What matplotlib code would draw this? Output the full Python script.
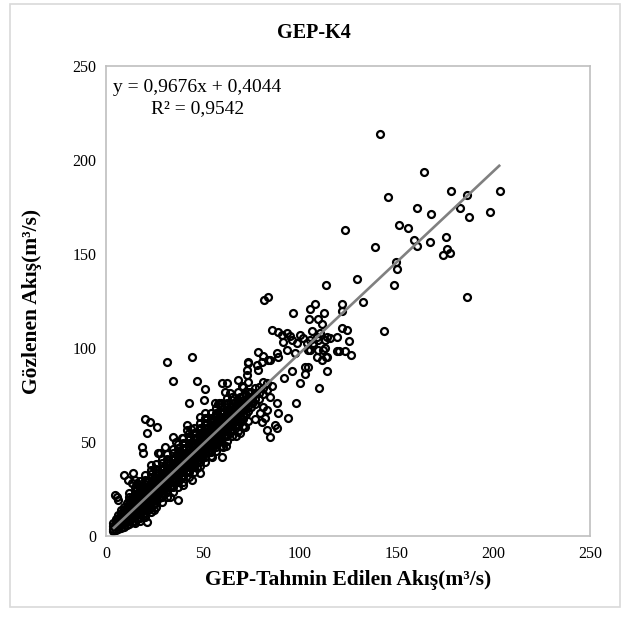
import matplotlib
matplotlib.use("Agg")
import matplotlib.pyplot as plt
from matplotlib.patches import Rectangle

plt.rcParams["font.family"] = ["Liberation Serif", "DejaVu Serif"]

INK = "#000000"
LINE_GREY = "#808080"
FRAME = "#bfbfbf"
OUTER = "#d9d9d9"

SLOPE = 0.9676
INTERCEPT = 0.4044
R2 = 0.9542

# dense core of the cloud (solid black in the picture): strip x, y values in it
core_x = [3.6, 5.0, 6.4, 7.8, 9.2, 10.6, 12.0, 13.4, 14.8, 16.2, 17.6, 19.0,
          20.4, 21.8, 23.2, 24.6, 26.0, 27.4, 28.8, 30.2, 31.6, 33.0, 34.4,
          35.8, 37.2, 38.6, 40.0, 41.4, 42.8, 44.2, 45.6, 47.0, 48.4, 49.8,
          51.2, 52.6, 54.0, 55.4, 56.8, 58.2, 59.6, 61.0, 62.4, 63.8, 65.2,
          66.6, 68.0, 69.4, 70.8, 72.2, 73.6, 75.0, 77.0, 79.0, 81.0, 83.0]
core_y = [
    [2.9, 3.9, 5.3, 6.8],
    [3.4, 4.6, 6.0, 7.6, 9.0],
    [3.8, 5.2, 6.6, 8.1, 9.6, 11.2],
    [4.3, 5.8, 7.3, 8.7, 10.3, 12.0, 13.6],
    [4.9, 6.7, 8.5, 10.2, 12.0, 13.8, 15.6],
    [5.6, 7.5, 9.4, 11.4, 13.3, 15.3, 17.3],
    [6.2, 8.4, 10.6, 12.9, 15.0, 17.2, 19.4],
    [7.2, 9.4, 11.7, 14.1, 16.4, 18.8, 21.0],
    [8.2, 10.5, 12.8, 15.1, 17.4, 19.8, 22.2],
    [8.9, 11.5, 14.1, 16.7, 19.3, 21.9, 24.5],
    [9.6, 12.2, 14.8, 17.4, 20.0, 22.6, 25.2],
    [10.9, 13.5, 16.1, 18.8, 21.4, 24.0, 26.6],
    [12.3, 14.9, 17.5, 20.1, 22.7, 25.3, 27.9],
    [13.6, 16.2, 18.8, 21.5, 24.1, 26.7, 29.3],
    [15.0, 17.6, 20.2, 22.8, 25.4, 28.0, 30.6],
    [17.7, 20.3, 22.9, 25.5, 28.1, 30.7],
    [17.8, 20.4, 23.0, 25.6, 28.2, 30.8, 33.4],
    [20.4, 23.0, 25.6, 28.2, 30.8, 33.4],
    [20.5, 23.1, 25.7, 28.3, 30.9, 33.5, 36.1],
    [23.1, 25.7, 28.3, 30.9, 33.5, 36.1],
    [23.2, 25.8, 28.4, 31.0, 33.6, 36.2, 38.8],
    [25.8, 28.4, 31.0, 33.6, 36.2, 38.8],
    [25.9, 28.5, 31.1, 33.7, 36.3, 38.9, 41.5],
    [28.5, 31.1, 33.7, 36.3, 38.9, 41.5],
    [28.6, 31.2, 33.8, 36.4, 39.0, 41.6, 44.2],
    [31.3, 33.9, 36.5, 39.1, 41.7, 44.3],
    [31.3, 33.9, 36.5, 39.1, 41.7, 44.3, 46.9],
    [34.0, 36.6, 39.2, 41.8, 44.4, 47.0],
    [34.0, 36.6, 39.2, 41.8, 44.4, 47.0, 49.6],
    [36.7, 39.3, 41.9, 44.5, 47.1, 49.7],
    [36.7, 39.3, 41.9, 44.5, 47.1, 49.7, 52.3],
    [39.4, 42.0, 44.6, 47.2, 49.8, 52.4],
    [39.4, 42.0, 44.6, 47.2, 49.8, 52.4, 55.0],
    [42.1, 44.7, 47.3, 49.9, 52.5, 55.1],
    [42.1, 44.7, 47.3, 49.9, 52.5, 55.1, 57.7],
    [44.8, 47.4, 50.0, 52.6, 55.2, 57.8],
    [44.9, 47.5, 50.1, 52.7, 55.3, 57.9, 60.5],
    [47.5, 50.1, 52.7, 55.3, 57.9, 60.5],
    [47.6, 50.2, 52.8, 55.4, 58.0, 60.6, 63.2],
    [50.2, 52.8, 55.4, 58.0, 60.6, 63.2],
    [50.3, 52.9, 55.5, 58.1, 60.7, 63.3, 65.9],
    [52.9, 55.5, 58.1, 60.7, 63.3, 65.9],
    [53.0, 55.6, 58.2, 60.8, 63.4, 66.0, 68.6],
    [55.6, 58.2, 60.8, 63.4, 66.0, 68.6],
    [56.5, 58.9, 61.5, 64.1, 66.7, 69.3],
    [58.3, 60.9, 63.5, 66.1, 68.7, 71.3],
    [59.2, 61.6, 64.2, 66.8, 69.4, 72.0],
    [61.1, 63.7, 66.3, 68.9, 71.5],
    [62.0, 64.3, 66.9, 69.5, 72.1, 74.7],
    [64.8, 67.4, 70.0, 72.6, 75.2],
    [66.4, 69.0, 71.6, 74.2, 76.8],
    [68.5, 71.2, 73.8, 76.4],
    [70.2, 73.0, 75.8, 78.6],
    [73.1, 76.2, 79.4],
    [75.4, 78.8, 82.0],
    [77.6, 81.4],
]

# looser rim of circles on both sides of the core
rim_x = [12.0, 14.8, 17.6, 20.4, 23.2, 26.0, 28.8, 31.6, 34.4, 37.2, 40.0,
         42.8, 45.6, 48.4, 51.2, 54.0, 56.8, 59.6, 62.4, 65.2, 68.0, 70.8, 73.6]
rim_y = [
    [20.5, 22.8],
    [7.0, 23.8, 26.0],
    [8.0, 26.8, 29.4],
    [10.2, 30.0, 32.6],
    [12.6, 33.0, 35.2],
    [15.2, 35.8, 38.4],
    [18.0, 38.6, 41.2],
    [20.6, 41.2, 43.8],
    [23.4, 44.0, 46.4],
    [26.0, 46.6, 49.2],
    [28.8, 49.4, 52.0],
    [31.6, 52.0, 54.6],
    [34.2, 54.8, 57.4],
    [37.0, 57.4, 60.0],
    [39.6, 60.2, 62.8],
    [42.4, 63.0, 65.4],
    [45.0, 65.6, 68.2],
    [47.8, 68.4, 71.0],
    [50.4, 71.0, 73.6],
    [53.2, 73.8],
    [56.0, 76.4],
    [58.6, 79.2],
    [61.4, 81.8],
]

# scattered points outside the core, read one by one
out_x = [141.5, 164.2, 145.8, 178.4, 186.7, 203.6, 160.5, 167.9, 183.1, 187.7,
         198.4, 123.7, 151.5, 156.2, 159.1, 160.5, 167.4, 175.5, 176.3, 174.1,
         177.5, 139.2, 149.6, 150.1, 129.9, 148.6, 121.8, 133.0, 186.7, 113.7,
         143.7, 81.4, 83.7, 107.7, 105.6, 96.4, 112.5, 122.0, 105.0, 109.6,
         111.6, 85.8, 122.0, 124.6, 125.4, 120.2, 126.3, 123.7, 113.9, 109.9,
         119.4, 90.8, 93.3, 95.0, 100.2, 101.9, 106.2, 108.8, 110.5, 113.9,
         115.7, 119.1, 91.6, 95.9, 98.5, 103.7, 107.1, 78.7, 81.3, 84.7,
         89.0, 93.3, 97.6, 105.4, 108.8, 113.6, 112.2, 73.5, 72.7, 77.8,
         31.3, 44.3, 34.4, 46.8, 51.1, 42.9, 50.6, 56.3, 58.5, 26.2,
         30.5, 34.8, 39.1, 41.7, 42.0, 48.6, 51.1, 59.7, 62.3, 61.5,
         68.3, 72.7, 73.5, 80.4, 83.8, 88.2, 89.0, 78.7, 64.9, 69.2,
         74.4, 76.1, 81.3, 84.7, 88.2, 79.5, 82.1, 83.0, 87.3, 88.2,
         83.0, 84.7, 80.4, 89.0, 20.1, 21.3, 18.4, 19.3, 27.0, 9.5,
         13.3, 5.5, 37.4, 21.0, 94.2, 98.2, 59.7, 60.6, 48.6, 44.3,
         69.2, 70.9, 22.7, 11.5, 14.1, 15.9, 4.6, 6.4, 100.2, 102.8,
         104.5, 102.8, 104.5, 109.7, 113.1, 114.0, 111.4, 109.7, 113.1, 107.1,
         105.4, 25.0, 33.0, 40.0, 47.0, 55.0, 62.0, 67.0, 72.0, 77.0,
         15.0, 23.0, 28.0, 36.0, 44.0, 52.0, 58.0, 64.0, 70.0, 92.0,
         96.0, 86.0]
out_y = [213.6, 193.7, 180.5, 183.5, 181.6, 183.5, 174.3, 171.5, 174.3, 169.5,
         172.3, 162.7, 165.4, 163.6, 157.4, 154.2, 156.4, 159.2, 152.8, 149.6,
         150.3, 153.5, 146.0, 142.2, 136.5, 133.6, 123.5, 124.6, 127.2, 133.6,
         109.3, 125.4, 127.2, 123.5, 120.5, 118.5, 118.5, 119.6, 115.5, 115.5,
         113.0, 109.4, 110.7, 109.4, 103.6, 98.2, 96.5, 98.2, 87.6, 78.7,
         98.6, 106.9, 107.8, 106.4, 106.9, 105.2, 109.2, 105.7, 107.8, 105.7,
         105.2, 105.7, 103.4, 104.3, 102.5, 102.8, 101.6, 98.0, 95.7, 93.6,
         95.4, 98.9, 97.2, 98.9, 95.4, 95.4, 98.9, 92.7, 88.3, 91.0,
         92.4, 95.4, 82.6, 82.6, 78.0, 70.6, 72.3, 70.6, 70.6, 57.8,
         47.5, 52.8, 52.0, 59.0, 56.4, 63.5, 65.3, 81.2, 81.2, 76.8,
         83.0, 85.6, 91.9, 92.7, 93.6, 97.2, 108.7, 88.3, 72.3, 74.1,
         75.9, 71.4, 68.8, 74.1, 70.6, 65.3, 62.6, 67.0, 59.0, 57.3,
         56.4, 52.8, 60.8, 65.3, 62.2, 55.0, 47.5, 44.0, 44.0, 32.4,
         28.0, 20.9, 19.1, 7.6, 62.6, 70.6, 42.2, 47.5, 33.4, 29.8,
         54.6, 58.1, 60.8, 29.8, 33.4, 28.0, 21.8, 19.1, 81.2, 90.0,
         89.9, 86.2, 98.9, 98.9, 99.8, 95.4, 93.6, 104.3, 104.3, 102.5,
         104.3, 14.0, 21.0, 27.0, 36.0, 42.0, 48.0, 53.0, 58.0, 62.0,
         30.0, 38.0, 44.0, 50.0, 57.0, 63.0, 70.0, 76.0, 80.0, 84.0,
         88.0, 80.0]

ticks = [0, 50, 100, 150, 200, 250]

xs, ys = [], []
for strip_x, strip_y in ((core_x, core_y), (rim_x, rim_y)):
    for cx, col in zip(strip_x, strip_y):
        xs += [cx] * len(col)
        ys += col
xs += out_x
ys += out_y

fig = plt.figure(figsize=(6.28, 6.21), dpi=100)
fig.patch.set_facecolor("white")
fig.patches.append(Rectangle((10 / 628, 1 - 607 / 621), 610 / 628, 603 / 621,
                             transform=fig.transFigure, fill=False,
                             edgecolor=OUTER, linewidth=1.2))

ax = fig.add_axes([106 / 628, 1 - 536 / 621, 484 / 628, 470 / 621])
ax.plot(xs, ys, linestyle="none", marker="o", markersize=5.0,
        markerfacecolor="none", markeredgecolor=INK, markeredgewidth=1.6,
        zorder=2)

x0, x1 = min(xs), max(xs)
ax.plot([x0, x1], [SLOPE * x0 + INTERCEPT, SLOPE * x1 + INTERCEPT],
        color=LINE_GREY, linewidth=1.9, zorder=3, solid_capstyle="butt")

ax.set_xlim(0, 250)
ax.set_ylim(0, 250)
ax.set_xticks(ticks)
ax.set_yticks(ticks)
ax.tick_params(length=0, labelsize=11.5, pad=7, colors=INK)
for sp in ax.spines.values():
    sp.set_color(FRAME)
    sp.set_linewidth(1.2)

ax.set_xlabel("GEP-Tahmin Edilen Akış(m³/s)", fontsize=15.5, fontweight="bold",
              labelpad=6)
ax.set_ylabel("Gözlenen Akış(m³/s)", fontsize=15.5, fontweight="bold",
              labelpad=22)
fig.text(314 / 628, 1 - 33 / 621, "GEP-K4", ha="center", va="center",
         fontsize=14.5, fontweight="bold")

eq = f"y = {SLOPE:.4f}x + {INTERCEPT:.4f}".replace(".", ",")
r2 = f"R² = {R2:.4f}".replace(".", ",")
fig.text(113 / 628, 1 - 88 / 621, eq, ha="left", va="center", fontsize=14)
fig.text(151 / 628, 1 - 109 / 621, r2, ha="left", va="center", fontsize=14)

fig.savefig("out.png", dpi=100, facecolor="white")
